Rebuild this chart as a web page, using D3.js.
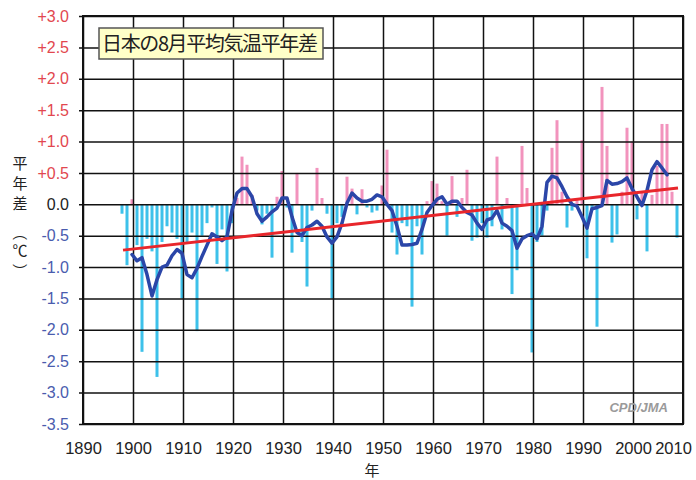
<!DOCTYPE html>
<html>
<head>
<meta charset="utf-8">
<script src="https://cdn.jsdelivr.net/npm/d3@7"></script>
<style>
  body { margin: 0; background: #fff; }
  svg { display: block; }
</style>
</head>
<body>
<svg id="chart" width="696" height="480"></svg>
<script>
// August mean temperature anomaly, Japan (deg C), 1898-2009
var firstYear = 1898;
var anomaly = [
  -0.15, -0.97,
  0.08, -0.65, -2.35, -0.55, -0.75, -2.75, -0.6, -0.35, -0.45, -0.55,
  -1.5, -0.6, -0.45, -2.02, -0.5, -0.3, -0.05, -0.95, -0.4, -1.07,
  -0.3, 0.1, 0.76, 0.63, 0.15, -0.1, -0.32, -0.15, -0.85, 0.12,
  0.53, -0.05, -0.77, 0.5, -0.6, -1.31, -0.1, 0.58, 0.1, -0.15,
  -1.5, -0.3, -0.2, 0.44, 0.25, -0.16, 0.24, -0.05, -0.13, -0.1,
  0.3, 0.87, -0.45, -0.8, -0.3, -0.35, -1.63, -0.35, -0.8, 0.05,
  0.37, 0.33, 0.05, -0.5, 0.45, -0.2, 0.1, 0.55, -0.58, -0.53,
  -0.3, -0.53, -0.35, 0.76, -0.4, 0.1, -1.43, -1.05, 0.93, 0.26,
  -2.36, -0.6, -0.5, -0.1, 0.9, 1.34, 0.2, -0.37, -0.1, 0.1,
  1.02, -0.86, -0.1, -1.95, 1.87, 0.93, -0.61, -0.48, 0.2, 1.22,
  1.0, -0.24, 0.2, -0.75, 0.15, 0.61, 1.28, 1.28, 0.2, -0.53
];

// 5-year running mean (blue line), 1900-2007
var smoothFirstYear = 1900;
var smooth = [
  -0.8, -0.9, -0.85, -1.12, -1.46, -1.2, -1.0, -0.97, -0.82, -0.72,
  -0.78, -1.12, -1.17, -1.02, -0.83, -0.65, -0.47, -0.52, -0.58, -0.52,
  -0.1, 0.18, 0.25, 0.25, 0.12, -0.15, -0.27, -0.2, -0.12, -0.06,
  0.1, 0.1, -0.2, -0.45, -0.5, -0.37, -0.33, -0.27, -0.35, -0.52,
  -0.62, -0.52, -0.3, 0.02, 0.18, 0.1, 0.05, 0.05, 0.08, 0.15,
  0.12, 0.0, -0.1, -0.35, -0.65, -0.65, -0.64, -0.62, -0.4, -0.13,
  -0.02, 0.08, 0.12, 0.0, 0.05, 0.05, -0.05, -0.13, -0.17, -0.3,
  -0.4, -0.25, -0.22, -0.1, -0.3, -0.35, -0.42, -0.7, -0.55, -0.5,
  -0.47, -0.55, -0.35, 0.35, 0.45, 0.42, 0.28, 0.12, 0.0, -0.03,
  -0.2, -0.38, -0.07, -0.05, -0.02, 0.38, 0.32, 0.33, 0.36, 0.42,
  0.25, 0.12, -0.02, 0.22, 0.55, 0.68, 0.58, 0.47
];

// long-term trend (red line) end points
var trendYears = [1898, 2009];
var trendValues = [-0.73, 0.26];

var xTicks = [1890, 1900, 1910, 1920, 1930, 1940, 1950, 1960, 1970, 1980, 1990, 2000, 2010];
var yTicks = [3.0, 2.5, 2.0, 1.5, 1.0, 0.5, 0.0, -0.5, -1.0, -1.5, -2.0, -2.5, -3.0, -3.5];
var yTickLabels = ["+3.0", "+2.5", "+2.0", "+1.5", "+1.0", "+0.5", "0.0",
                   "-0.5", "-1.0", "-1.5", "-2.0", "-2.5", "-3.0", "-3.5"];

var margin = {left: 83, top: 16, right: 13, bottom: 56};
var width = 696 - margin.left - margin.right;
var height = 480 - margin.top - margin.bottom;

var svg = d3.select("#chart");
var g = svg.append("g").attr("transform", "translate(" + margin.left + "," + margin.top + ")");

var x = d3.scaleLinear().domain([1890, 2010]).range([0, width]);
var y = d3.scaleLinear().domain([-3.5, 3.0]).range([height, 0]);

var bars = anomaly.map(function (v, i) { return {year: firstYear + i, value: v}; });
var line = smooth.map(function (v, i) { return {year: smoothFirstYear + i, value: v}; });

// bars
g.selectAll("rect.bar")
  .data(bars)
  .enter().append("rect")
    .attr("class", "bar")
    .attr("x", function (d) { return x(d.year) - 2.5; })
    .attr("width", 3)
    .attr("y", function (d) { return y(Math.max(0, d.value)); })
    .attr("height", function (d) { return Math.abs(y(d.value) - y(0)); })
    .attr("fill", function (d) { return d.value >= 0 ? "#f293bd" : "#3dc1ea"; });

// grid (horizontal)
var yAxis = d3.axisLeft(y)
  .tickValues(yTicks)
  .tickSizeInner(-width)
  .tickSizeOuter(0)
  .tickPadding(14)
  .tickFormat(function (d, i) { return yTickLabels[i]; });

var yg = g.append("g").call(yAxis);
yg.select(".domain").remove();
yg.selectAll(".tick line")
  .attr("x1", -4)
  .attr("stroke", "#111")
  .attr("stroke-width", 1.5);
yg.selectAll(".tick text")
  .attr("font-family", "Liberation Sans, Arial, sans-serif")
  .attr("font-size", 16)
  .attr("fill", function (d) { return d > 0 ? "#e2474f" : (d < 0 ? "#4a5cae" : "#222"); });

// grid (vertical)
var xAxis = d3.axisBottom(x)
  .tickValues(xTicks)
  .tickSizeInner(-height)
  .tickSizeOuter(0)
  .tickPadding(18)
  .tickFormat(d3.format("d"));

var xg = g.append("g").attr("transform", "translate(0," + height + ")").call(xAxis);
xg.select(".domain").remove();
xg.selectAll(".tick line")
  .attr("stroke", "#111")
  .attr("stroke-width", 1.5);
xg.selectAll(".tick text")
  .attr("font-family", "Liberation Sans, Arial, sans-serif")
  .attr("font-size", 16.5)
  .attr("fill", "#222")
  .attr("dx", function (d) { return d === 2010 ? -10 : 0; });

// frame
g.append("rect")
  .attr("width", width)
  .attr("height", height)
  .attr("fill", "none")
  .attr("stroke", "#111")
  .attr("stroke-width", 2);

// running mean
var lineGen = d3.line()
  .x(function (d) { return x(d.year) - 1; })
  .y(function (d) { return y(d.value); });

g.append("path")
  .datum(line)
  .attr("fill", "none")
  .attr("stroke", "#2b46a8")
  .attr("stroke-width", 3.5)
  .attr("stroke-linejoin", "round")
  .attr("stroke-linecap", "round")
  .attr("d", lineGen);

// trend
g.append("line")
  .attr("x1", x(trendYears[0]))
  .attr("x2", x(trendYears[1]))
  .attr("y1", y(trendValues[0]))
  .attr("y2", y(trendValues[1]))
  .attr("stroke", "#e8262b")
  .attr("stroke-width", 3);

// title box
svg.append("rect")
  .attr("x", 99).attr("y", 28)
  .attr("width", 224).attr("height", 31)
  .attr("fill", "#ffffc8")
  .attr("stroke", "#555")
  .attr("stroke-width", 1.5);
svg.append("text")
  .attr("x", 102).attr("y", 51)
  .attr("font-family", "Noto Sans CJK JP, sans-serif")
  .attr("font-size", 20)
  .attr("textLength", 216)
  .attr("fill", "#222")
  .text("日本の8月平均気温平年差");

// source note
svg.append("text")
  .attr("x", 668).attr("y", 412)
  .attr("text-anchor", "end")
  .attr("font-family", "Liberation Sans, Arial, sans-serif")
  .attr("font-size", 13)
  .attr("font-style", "italic")
  .attr("font-weight", "bold")
  .attr("fill", "#9a9a9a")
  .text("CPD/JMA");

// axis titles
svg.append("text")
  .attr("x", 372).attr("y", 476)
  .attr("text-anchor", "middle")
  .attr("font-family", "Noto Sans CJK JP, sans-serif")
  .attr("font-size", 15)
  .attr("fill", "#222")
  .text("年");

var yTitle = ["平", "年", "差"];
svg.selectAll("text.ytitle")
  .data(yTitle)
  .enter().append("text")
    .attr("class", "ytitle")
    .attr("x", 20)
    .attr("y", function (d, i) { return 169 + i * 20; })
    .attr("text-anchor", "middle")
    .attr("font-family", "Noto Sans CJK JP, sans-serif")
    .attr("font-size", 15)
    .attr("fill", "#222")
    .text(function (d) { return d; });

svg.append("text")
  .attr("transform", "translate(20,233) rotate(90)")
  .attr("text-anchor", "middle")
  .attr("dominant-baseline", "central")
  .attr("font-family", "Noto Sans CJK JP, sans-serif")
  .attr("font-size", 15)
  .attr("fill", "#222")
  .text("（");
svg.append("text")
  .attr("x", 20).attr("y", 256)
  .attr("text-anchor", "middle")
  .attr("font-family", "Noto Sans CJK JP, sans-serif")
  .attr("font-size", 15)
  .attr("fill", "#222")
  .text("℃");
svg.append("text")
  .attr("transform", "translate(20,271) rotate(90)")
  .attr("text-anchor", "middle")
  .attr("dominant-baseline", "central")
  .attr("font-family", "Noto Sans CJK JP, sans-serif")
  .attr("font-size", 15)
  .attr("fill", "#222")
  .text("）");
</script>
</body>
</html>
